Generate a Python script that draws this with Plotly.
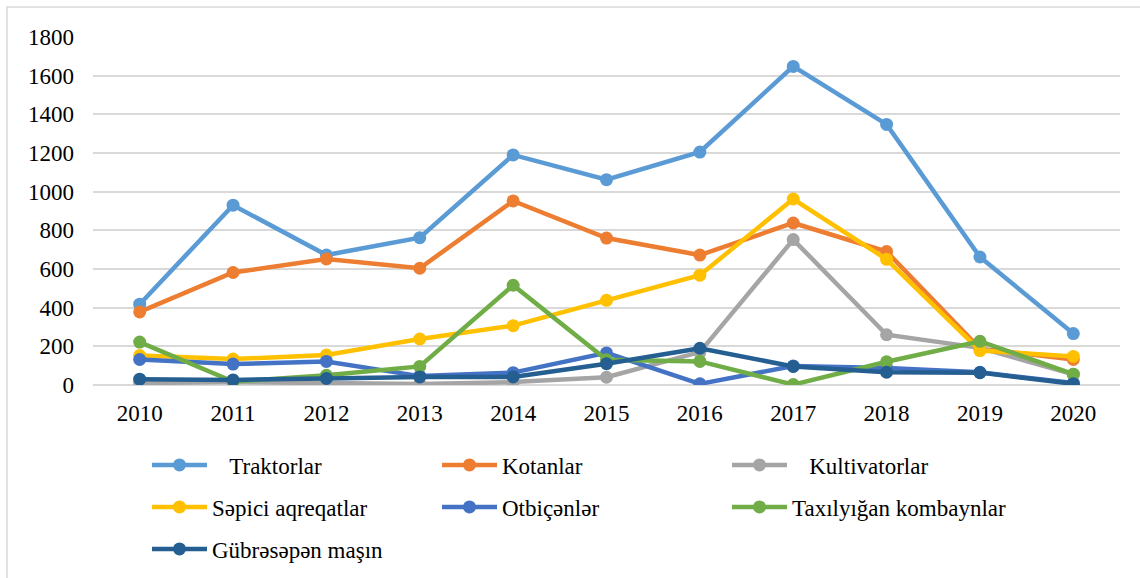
import plotly.graph_objects as go

years = ["2010", "2011", "2012", "2013", "2014", "2015", "2016", "2017", "2018", "2019", "2020"]

traktorlar = [418, 930, 672, 762, 1190, 1062, 1205, 1648, 1348, 662, 266]
kotanlar = [378, 582, 652, 604, 952, 760, 672, 838, 690, 188, 132]
kultivatorlar = [10, 15, 10, 5, 15, 40, 170, 752, 260, 192, 55]
sepici = [152, 134, 155, 238, 307, 438, 568, 962, 650, 178, 148]
otbicenler = [132, 108, 122, 46, 64, 166, 6, 98, 88, 66, 10]
taxiliygan = [222, 18, 50, 96, 516, 130, 122, 2, 120, 226, 56]
gubresepen = [30, 26, 34, 42, 42, 110, 190, 96, 66, 64, 6]

names = ["\u00a0\u00a0\u00a0Traktorlar", "Kotanlar", "\u00a0\u00a0\u00a0Kultivatorlar",
         "Səpici aqreqatlar", "Otbiçənlər", "Taxılyığan kombaynlar", "Gübrəsəpən maşın"]
series = [traktorlar, kotanlar, kultivatorlar, sepici, otbicenler, taxiliygan, gubresepen]
colors = ["#5B9BD5", "#ED7D31", "#A5A5A5", "#FFC000", "#4472C4", "#70AD47", "#255E91"]
legends = ["legend", "legend", "legend", "legend2", "legend2", "legend2", "legend3"]

FONT = "Liberation Serif, Times New Roman, DejaVu Serif, serif"

fig = go.Figure()
for n, s, c, lg in zip(names, series, colors, legends):
    fig.add_trace(go.Scatter(
        x=years, y=s, name=n, mode="lines+markers",
        line=dict(color=c, width=4.5),
        marker=dict(color=c, size=13),
        legend=lg,
    ))

W, H = 1140, 578
L, R, T, B = 93, 20, 37, 193
pw = W - L - R
ph = H - T - B

def px2x(px):
    return (px - L) / pw

def py2y(py):
    return (H - B - py) / ph

leg_common = dict(
    orientation="h", xref="container", yref="container",
    xanchor="left", yanchor="middle", entrywidth=220, entrywidthmode="pixels",
    itemwidth=55, font=dict(family=FONT, size=23, color="#000000"),
    bgcolor="rgba(0,0,0,0)", traceorder="normal",
)

fig.update_layout(
    width=W, height=H,
    margin=dict(l=L, r=R, t=T, b=B),
    paper_bgcolor="white", plot_bgcolor="white",
    font=dict(family=FONT, size=23, color="#000000"),
    xaxis=dict(
        type="category", range=[-0.5, 10.5], showgrid=False, zeroline=False,
        showline=False, ticks="", ticklabelstandoff=12,
        tickfont=dict(family=FONT, size=23, color="#000000"),
    ),
    yaxis=dict(
        range=[0, 1800], dtick=200, showgrid=True, gridcolor="#D9D9D9", gridwidth=1.5,
        zeroline=True, zerolinecolor="#D9D9D9", zerolinewidth=1.5,
        showline=False, ticks="", ticklabelstandoff=18,
        tickfont=dict(family=FONT, size=23, color="#000000"),
    ),
    legend=dict(x=147 / W, y=1 - 465 / H, **leg_common),
    legend2=dict(x=147 / W, y=1 - 507 / H, **leg_common),
    legend3=dict(x=147 / W, y=1 - 549 / H, **leg_common),
    showlegend=True,
    shapes=[dict(
        type="rect", xref="paper", yref="paper",
        x0=px2x(7), x1=px2x(1160), y0=py2y(600), y1=py2y(7),
        line=dict(color="#D9D9D9", width=1.5), fillcolor="rgba(0,0,0,0)", layer="below",
    )],
)

fig.write_html("out.html", config={"displayModeBar": False},
               post_script="document.body.style.margin='0';")
